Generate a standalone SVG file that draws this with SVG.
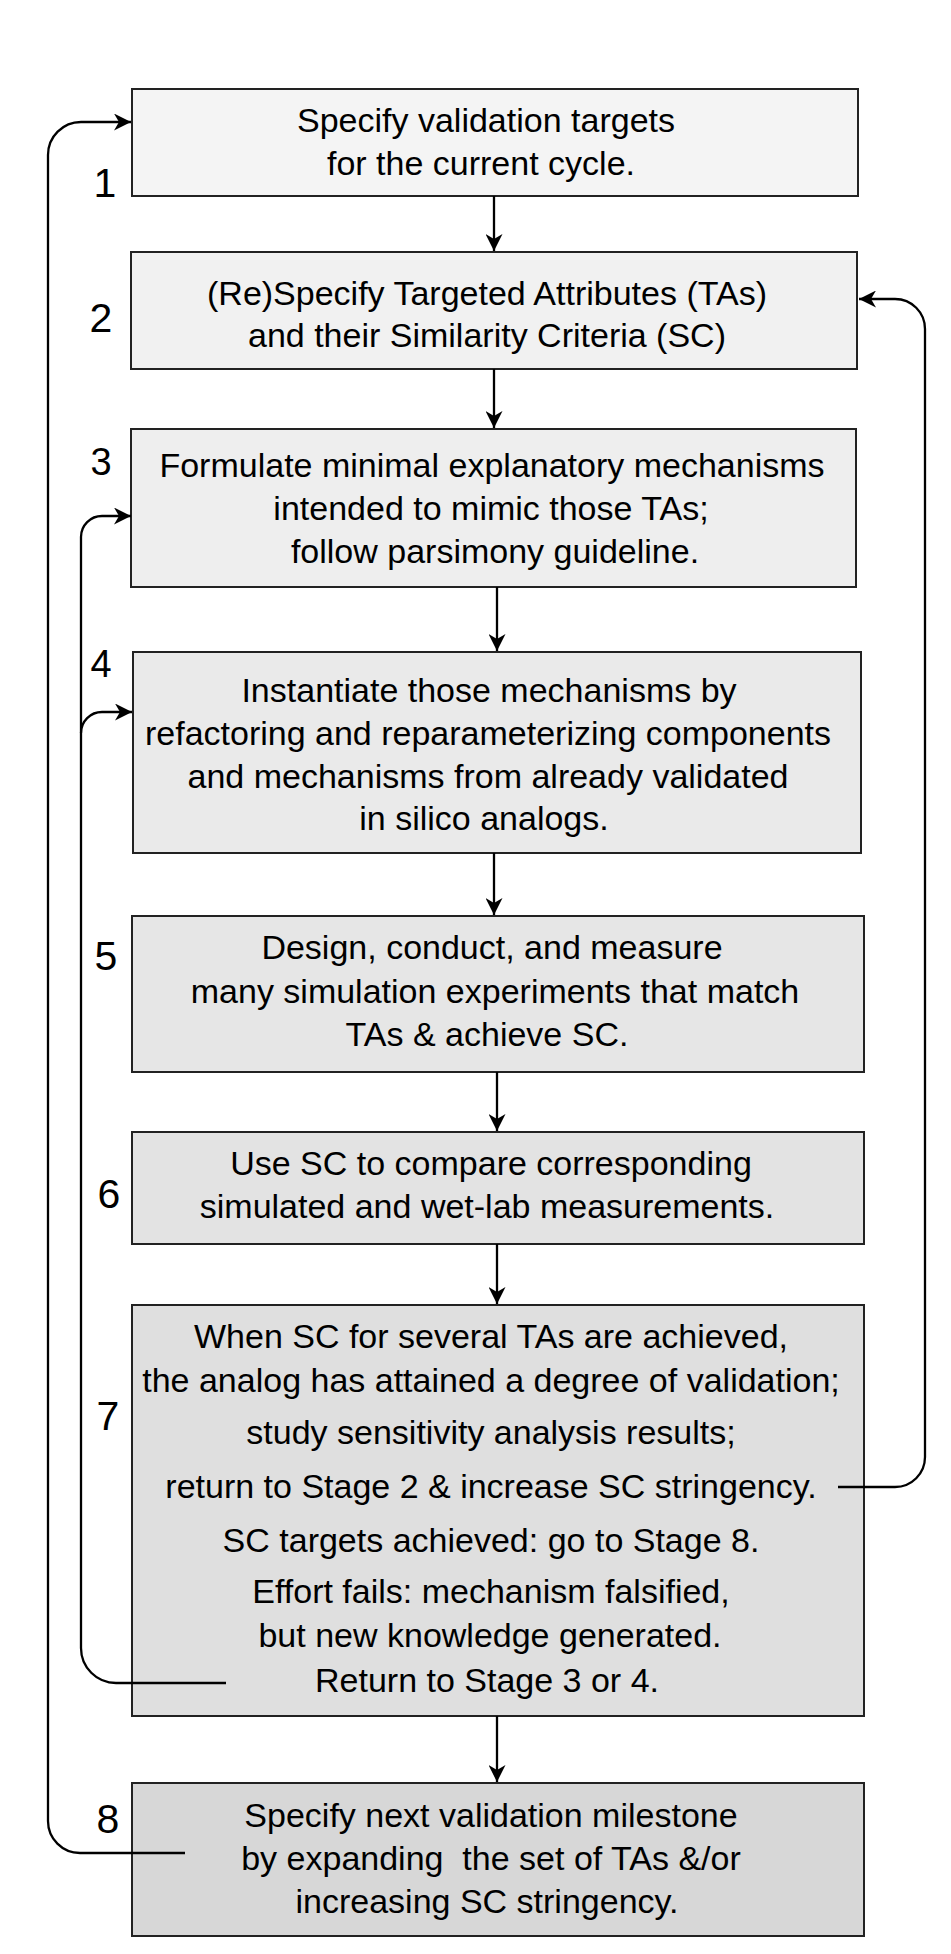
<svg xmlns="http://www.w3.org/2000/svg" width="951" height="1954" viewBox="0 0 951 1954">
<style>
.box{stroke:#222;stroke-width:2}
.t{font-family:"Liberation Sans",Arial,sans-serif;font-size:34px;fill:#000;text-anchor:middle}
.n{font-family:"Liberation Sans",Arial,sans-serif;font-size:41px;fill:#000;text-anchor:middle}
.c{fill:none;stroke:#000;stroke-width:2.3}
</style>
<defs>
<marker id="ah" markerUnits="userSpaceOnUse" viewBox="0 0 17 17" refX="17" refY="8.5" markerWidth="17" markerHeight="17" orient="auto">
<path d="M0,0 L17,8.5 L0,17 L5,8.5 Z" fill="#000"/>
</marker>
</defs>
<rect width="951" height="1954" fill="#fff"/>

<g id="node1">
<rect class="box" x="132" y="89" width="726" height="107" fill="#f4f4f4"/>
<text class="t" x="486" y="132">Specify validation targets</text>
<text class="t" x="481" y="175">for the current cycle.</text>
<text class="n" x="105" y="197">1</text>
</g>

<g id="node2">
<rect class="box" x="131" y="252" width="726" height="117" fill="#f1f1f1"/>
<text class="t" x="487" y="305">(Re)Specify Targeted Attributes (TAs)</text>
<text class="t" x="487" y="347">and their Similarity Criteria (SC)</text>
<text class="n" x="101" y="332">2</text>
</g>

<g id="node3">
<rect class="box" x="131" y="429" width="725" height="158" fill="#eeeeee"/>
<text class="t" x="492" y="477">Formulate minimal explanatory mechanisms</text>
<text class="t" x="491" y="520">intended to mimic those TAs;</text>
<text class="t" x="495" y="563">follow parsimony guideline.</text>
<text class="n" x="101" y="475" style="font-size:38px">3</text>
</g>

<g id="node4">
<rect class="box" x="133" y="652" width="728" height="201" fill="#eaeaea"/>
<text class="t" x="489" y="702">Instantiate those mechanisms by</text>
<text class="t" x="488" y="745">refactoring and reparameterizing components</text>
<text class="t" x="488" y="788">and mechanisms from already validated</text>
<text class="t" x="484" y="830">in silico analogs.</text>
<text class="n" x="101" y="677" style="font-size:38px">4</text>
</g>

<g id="node5">
<rect class="box" x="132" y="916" width="732" height="156" fill="#e6e6e6"/>
<text class="t" x="492" y="959">Design, conduct, and measure</text>
<text class="t" x="495" y="1003">many simulation experiments that match</text>
<text class="t" x="487" y="1046">TAs &amp; achieve SC.</text>
<text class="n" x="106" y="970">5</text>
</g>

<g id="node6">
<rect class="box" x="132" y="1132" width="732" height="112" fill="#e3e3e3"/>
<text class="t" x="491" y="1175">Use SC to compare corresponding</text>
<text class="t" x="487" y="1218">simulated and wet-lab measurements.</text>
<text class="n" x="109" y="1208">6</text>
</g>

<g id="node7">
<rect class="box" x="132" y="1305" width="732" height="411" fill="#dfdfdf"/>
<text class="t" x="491" y="1348">When SC for several TAs are achieved,</text>
<text class="t" x="491" y="1392">the analog has attained a degree of validation;</text>
<text class="t" x="491" y="1444">study sensitivity analysis results;</text>
<text class="t" x="491" y="1498">return to Stage 2 &amp; increase SC stringency.</text>
<text class="t" x="491" y="1552">SC targets achieved: go to Stage 8.</text>
<text class="t" x="491" y="1603">Effort fails: mechanism falsified,</text>
<text class="t" x="490" y="1647">but new knowledge generated.</text>
<text class="t" x="487" y="1692">Return to Stage 3 or 4.</text>
<text class="n" x="108" y="1430">7</text>
</g>

<g id="node8">
<rect class="box" x="132" y="1783" width="732" height="153" fill="#d7d7d7"/>
<text class="t" x="491" y="1827">Specify next validation milestone</text>
<text class="t" x="491" y="1870" xml:space="preserve">by expanding  the set of TAs &amp;/or</text>
<text class="t" x="487" y="1913">increasing SC stringency.</text>
<text class="n" x="108" y="1833">8</text>
</g>

<g id="connectors">
<path class="c" d="M494,196 V251" marker-end="url(#ah)"/>
<path class="c" d="M494,369 V428" marker-end="url(#ah)"/>
<path class="c" d="M497,587 V651" marker-end="url(#ah)"/>
<path class="c" d="M494,853 V915" marker-end="url(#ah)"/>
<path class="c" d="M497,1072 V1131" marker-end="url(#ah)"/>
<path class="c" d="M497,1244 V1304" marker-end="url(#ah)"/>
<path class="c" d="M497,1716 V1782" marker-end="url(#ah)"/>
<path class="c" d="M838,1487 H895 A30,30 0 0 0 925,1457 V329 A30,30 0 0 0 895,299 H859" marker-end="url(#ah)"/>
<path class="c" d="M185,1853 H80 A32,32 0 0 1 48,1821 V155 A33,33 0 0 1 81,122 H131" marker-end="url(#ah)"/>
<path class="c" d="M226,1683 H116 A35,35 0 0 1 81,1648 V537 A21,21 0 0 1 102,516 H131" marker-end="url(#ah)"/>
<path class="c" d="M81,733 A21,21 0 0 1 102,712 H132" marker-end="url(#ah)"/>
</g>
</svg>
